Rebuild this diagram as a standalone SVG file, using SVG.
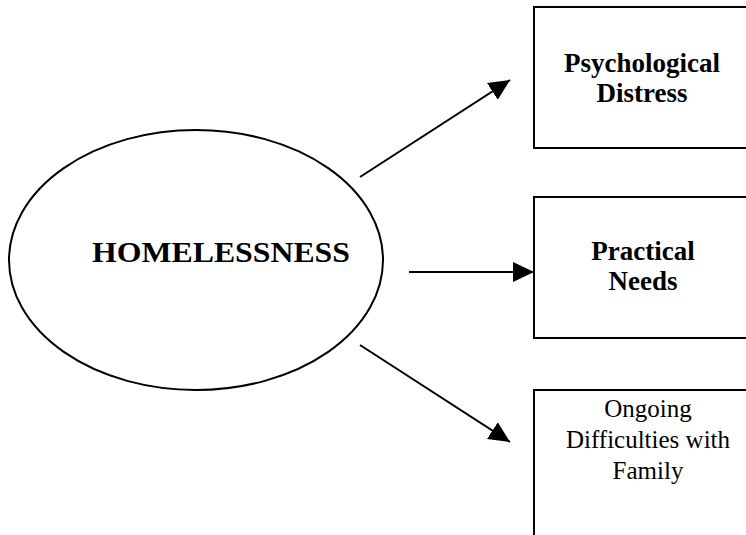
<svg xmlns="http://www.w3.org/2000/svg" width="746" height="535" viewBox="0 0 746 535">
<defs>
<marker id="arr" viewBox="0 0 21 20" refX="21" refY="10" markerWidth="21" markerHeight="20" markerUnits="userSpaceOnUse" orient="auto">
<path d="M0,0 L21,10 L0,20 Z" fill="#000"/>
</marker>
</defs>
<style>
.shape{fill:#fff;stroke:#000;stroke-width:2}
.bold{font-family:"Liberation Serif","Times New Roman",serif;font-weight:bold;fill:#000;text-anchor:middle}
.reg{font-family:"Liberation Serif","Times New Roman",serif;fill:#000;text-anchor:middle;font-size:25px}
.conn{stroke:#000;stroke-width:2;fill:none;marker-end:url(#arr)}
</style>
<rect width="746" height="535" fill="#fff"/>
<g id="homelessness">
<ellipse class="shape" cx="196" cy="260" rx="187" ry="130"/>
<text class="bold" x="221" y="262" font-size="29" textLength="258" lengthAdjust="spacingAndGlyphs">HOMELESSNESS</text>
</g>
<g id="psychological-distress">
<rect class="shape" x="534" y="7" width="220" height="141"/>
<text class="bold" font-size="27" x="642" y="72">Psychological</text>
<text class="bold" font-size="27" x="642" y="102">Distress</text>
</g>
<g id="practical-needs">
<rect class="shape" x="534" y="197" width="220" height="141"/>
<text class="bold" font-size="27" x="643" y="260">Practical</text>
<text class="bold" font-size="27" x="643" y="290">Needs</text>
</g>
<g id="ongoing-difficulties">
<rect class="shape" x="534" y="390" width="220" height="160"/>
<text class="reg" x="648" y="417">Ongoing</text>
<text class="reg" x="648" y="448">Difficulties with</text>
<text class="reg" x="648" y="479">Family</text>
</g>
<g id="connectors">
<line class="conn" x1="360" y1="177" x2="510" y2="80"/>
<line class="conn" x1="409" y1="272" x2="534" y2="272"/>
<line class="conn" x1="360" y1="345" x2="510" y2="442"/>
</g>
</svg>
